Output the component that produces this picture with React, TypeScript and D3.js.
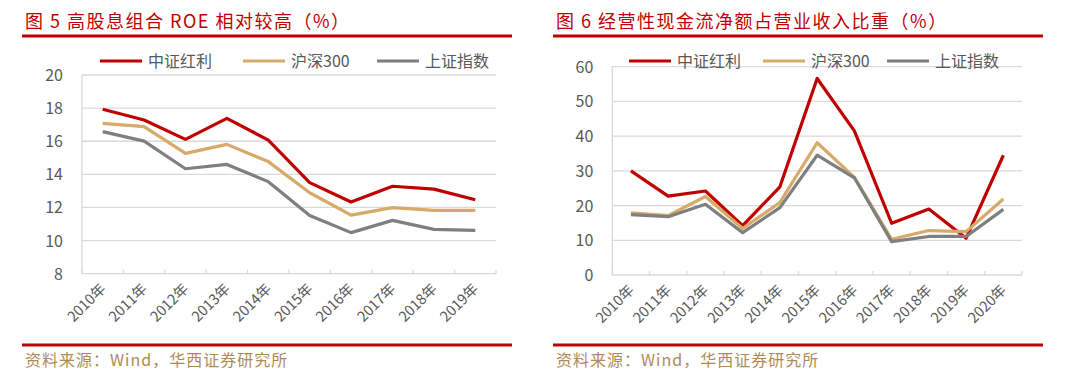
import React from "react";
import * as d3 from "d3";

const years1 = ["2010年", "2011年", "2012年", "2013年", "2014年", "2015年", "2016年", "2017年", "2018年", "2019年"];
const roeDividend = [17.93, 17.28, 16.11, 17.38, 16.07, 13.5, 12.33, 13.28, 13.11, 12.47];
const roeCsi300 = [17.08, 16.88, 15.27, 15.81, 14.77, 12.89, 11.54, 11.99, 11.83, 11.83];
const roeSse = [16.58, 16.01, 14.34, 14.6, 13.56, 11.52, 10.48, 11.22, 10.68, 10.62];
const ticks1 = [8, 10, 12, 14, 16, 18, 20];

const years2 = ["2010年", "2011年", "2012年", "2013年", "2014年", "2015年", "2016年", "2017年", "2018年", "2019年", "2020年"];
const cfDividend = [30.0, 22.7, 24.2, 14.2, 25.4, 56.6, 41.5, 14.9, 19.0, 10.6, 34.5];
const cfCsi300 = [17.9, 17.1, 22.6, 13.4, 20.9, 38.1, 28.1, 10.3, 12.8, 12.5, 21.9];
const cfSse = [17.4, 16.8, 20.4, 12.2, 19.4, 34.5, 28.0, 9.6, 11.1, 11.1, 18.9];
const ticks2 = [0, 10, 20, 30, 40, 50, 60];

const seriesNames = ["中证红利", "沪深300", "上证指数"];
const seriesColors = ["#c00000", "#d6aa68", "#7f7f7f"];

const title1 = "图 5 高股息组合 ROE 相对较高（%）";
const title2 = "图 6 经营性现金流净额占营业收入比重（%）";
const source = "资料来源：Wind，华西证券研究所";

const AXIS_FONT = "'Noto Sans CJK SC', 'Noto Sans', sans-serif";
const TEXT_GRAY = "#595959";
const GRID = "#d9d9d9";

type PanelProps = {
  x0: number; x1: number; yTop: number; yBottom: number;
  frameL: number; frameR: number;
  title: string; categories: string[]; series: number[][]; ticks: number[];
  legendX: number[];
};

function Panel(p: PanelProps) {
  const x = d3.scaleBand<string>().domain(p.categories).range([p.x0, p.x1]).padding(0);
  const y = d3.scaleLinear().domain([p.ticks[0], p.ticks[p.ticks.length - 1]]).range([p.yBottom, p.yTop]);
  const line = d3.line<number>()
    .x((_, i) => (x(p.categories[i]) as number) + x.bandwidth() / 2)
    .y((d) => y(d));
  const bounds = p.categories.map((c) => x(c) as number).concat([p.x1]);
  return (
    <g>
      <text x={p.frameL + 3} y={28} fontFamily={AXIS_FONT} fontSize={18} fill="#c00000" letterSpacing={1.5}>{p.title}</text>
      <line x1={p.frameL} x2={p.frameR} y1={36} y2={36} stroke="#c00000" strokeWidth={3} />
      {p.ticks.slice(1).map((t) => (
        <line key={"g" + t} x1={p.x0} x2={p.x1} y1={y(t)} y2={y(t)} stroke={GRID} strokeWidth={1.3} />
      ))}
      <line x1={p.x0} x2={p.x0} y1={p.yTop} y2={p.yBottom} stroke={GRID} strokeWidth={1.3} />
      <line x1={p.x0} x2={p.x1} y1={p.yBottom} y2={p.yBottom} stroke={GRID} strokeWidth={1.3} />
      {bounds.map((b, i) => (
        <line key={"tk" + i} x1={b} x2={b} y1={p.yBottom} y2={p.yBottom - 4} stroke={GRID} strokeWidth={1.3} />
      ))}
      {p.ticks.map((t) => (
        <text key={"yl" + t} x={p.x0 - 19} y={y(t) + 6} textAnchor="end" fontFamily={AXIS_FONT} fontSize={16} fill={TEXT_GRAY}>{t}</text>
      ))}
      {p.categories.map((c) => {
        const cx = (x(c) as number) + x.bandwidth() / 2 + 4;
        const cy = p.yBottom + 16;
        return (
          <text key={"xl" + c} transform={`translate(${cx},${cy}) rotate(-45)`} textAnchor="end" fontFamily={AXIS_FONT} fontSize={14.5} fill={TEXT_GRAY}>{c}</text>
        );
      })}
      {p.series.map((s, i) => (
        <path key={"s" + i} d={line(s) as string} fill="none" stroke={seriesColors[i]} strokeWidth={3.2} strokeLinejoin="round" />
      ))}
      {seriesNames.map((n, i) => (
        <g key={"lg" + i}>
          <line x1={p.legendX[i]} x2={p.legendX[i] + 42} y1={61} y2={61} stroke={seriesColors[i]} strokeWidth={3.2} />
          <text x={p.legendX[i] + 48} y={66.5} fontFamily={AXIS_FONT} fontSize={16} fill={TEXT_GRAY}>{n}</text>
        </g>
      ))}
      <line x1={p.frameL} x2={p.frameR} y1={345} y2={345} stroke="#c00000" strokeWidth={3} />
      <text x={p.frameL + 3} y={366} fontFamily={AXIS_FONT} fontSize={16} fill="#b08a55" letterSpacing={1}>{source}</text>
    </g>
  );
}

export default function App() {
  return (
    <svg width={1080} height={386} style={{ position: "absolute", left: 0, top: 0, background: "#fff" }}>
      <rect width={1080} height={386} fill="#fff" />
      <Panel x0={82} x1={496} yTop={75} yBottom={273.7} frameL={22} frameR={512}
        title={title1} categories={years1} series={[roeDividend, roeCsi300, roeSse]} ticks={ticks1}
        legendX={[100, 243, 377]} />
      <Panel x0={612.3} x1={1022} yTop={66.7} yBottom={275} frameL={553} frameR={1043}
        title={title2} categories={years2} series={[cfDividend, cfCsi300, cfSse]} ticks={ticks2}
        legendX={[629, 763, 887]} />
    </svg>
  );
}
